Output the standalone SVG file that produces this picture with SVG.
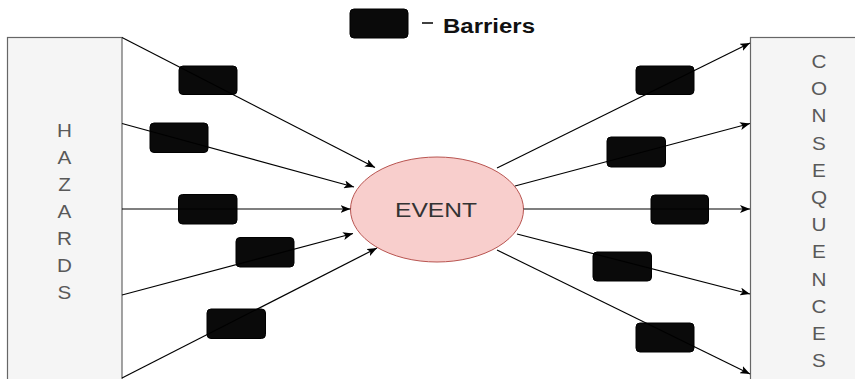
<svg xmlns="http://www.w3.org/2000/svg" width="855" height="379" viewBox="0 0 855 379">
  <style>
    .panel { fill: #f5f5f5; stroke: #666666; stroke-width: 1.2; }
    .barrier { fill: #0a0a0a; stroke: #000000; stroke-width: 1; }
    .link { fill: none; stroke: #000000; stroke-width: 1.2; marker-end: url(#arrow); }
    .plain { fill: none; stroke: #000000; stroke-width: 1.2; }
    .letters { font-family: "Liberation Sans", Arial, sans-serif; font-size: 18px; fill: #595959; text-anchor: middle; }
  </style>
  <defs>
    <marker id="arrow" viewBox="0 0 10 8" refX="10" refY="4" markerWidth="10" markerHeight="8" markerUnits="userSpaceOnUse" orient="auto">
      <path d="M0,0 L10,4 L0,8 L2.5,4 Z" fill="#000000"/>
    </marker>
  </defs>

  <rect width="855" height="379" fill="#ffffff"/>

  <!-- legend -->
  <g id="legend">
    <rect x="350" y="9" width="58" height="29" rx="4" class="barrier"/>
    <line x1="422" y1="23" x2="433" y2="23" stroke="#000000" stroke-width="1.5"/>
    <text x="443" y="33" font-family="Liberation Sans, Arial, sans-serif" font-size="19.5" font-weight="bold" fill="#111111" textLength="92" lengthAdjust="spacingAndGlyphs">Barriers</text>
  </g>

  <!-- hazards panel -->
  <g id="hazards">
    <rect x="7.5" y="37.5" width="114.5" height="360" class="panel"/>
    <g class="letters" transform="translate(64.5 0) scale(1.15 1)">
      <text x="0" y="137">H</text>
      <text x="0" y="164">A</text>
      <text x="0" y="191">Z</text>
      <text x="0" y="218">A</text>
      <text x="0" y="245">R</text>
      <text x="0" y="272">D</text>
      <text x="0" y="299">S</text>
    </g>
  </g>

  <!-- consequences panel -->
  <g id="consequences">
    <rect x="750.5" y="37.5" width="120" height="360" class="panel"/>
    <g class="letters" transform="translate(819 0) scale(1.15 1)">
      <text x="0" y="68">C</text>
      <text x="0" y="95.2">O</text>
      <text x="0" y="122.4">N</text>
      <text x="0" y="149.6">S</text>
      <text x="0" y="176.8">E</text>
      <text x="0" y="204">Q</text>
      <text x="0" y="231.2">U</text>
      <text x="0" y="258.4">E</text>
      <text x="0" y="285.6">N</text>
      <text x="0" y="312.8">C</text>
      <text x="0" y="340">E</text>
      <text x="0" y="367.2">S</text>
    </g>
  </g>

  <!-- central event -->
  <g id="event">
    <ellipse cx="437" cy="209.5" rx="86.5" ry="52.5" fill="#f8cecc" stroke="#b85450" stroke-width="1"/>
    <text x="436" y="217" font-family="Liberation Sans, Arial, sans-serif" font-size="21" fill="#333333" text-anchor="middle" textLength="82" lengthAdjust="spacingAndGlyphs">EVENT</text>
  </g>

  <!-- barriers on the threat lines -->
  <g id="barriers-left">
    <rect x="179" y="66" width="58" height="28.5" rx="4" class="barrier"/>
    <rect x="150" y="123" width="58" height="29.5" rx="4" class="barrier"/>
    <rect x="178.5" y="194.5" width="58.5" height="29.5" rx="4" class="barrier"/>
    <rect x="236" y="237.5" width="58" height="29.5" rx="4" class="barrier"/>
    <rect x="207" y="309" width="58.5" height="29.5" rx="4" class="barrier"/>
  </g>
  <g id="barriers-right">
    <rect x="636" y="66" width="58" height="28.5" rx="4" class="barrier"/>
    <rect x="607" y="137" width="58.5" height="30" rx="4" class="barrier"/>
    <rect x="651" y="195" width="57.5" height="29" rx="4" class="barrier"/>
    <rect x="593" y="252" width="58.5" height="29" rx="4" class="barrier"/>
    <rect x="636" y="323" width="58" height="29" rx="4" class="barrier"/>
  </g>

  <!-- connectors -->
  <g id="connectors">
    <line x1="122" y1="37.5" x2="375" y2="167.5" class="link"/>
    <line x1="122" y1="123.5" x2="354" y2="187" class="link"/>
    <line x1="122" y1="209" x2="350.5" y2="209" class="link"/>
    <line x1="122" y1="295" x2="353" y2="233.5" class="link"/>
    <line x1="122" y1="378" x2="377" y2="248" class="link"/>

    <line x1="497" y1="168" x2="750" y2="43" class="link"/>
    <line x1="515" y1="186" x2="750" y2="123.5" class="link"/>
    <line x1="523.5" y1="209" x2="750" y2="209" class="link"/>
    <line x1="517" y1="234" x2="750" y2="294" class="link"/>
    <line x1="497" y1="250" x2="750" y2="374" class="link"/>
  </g>
</svg>
